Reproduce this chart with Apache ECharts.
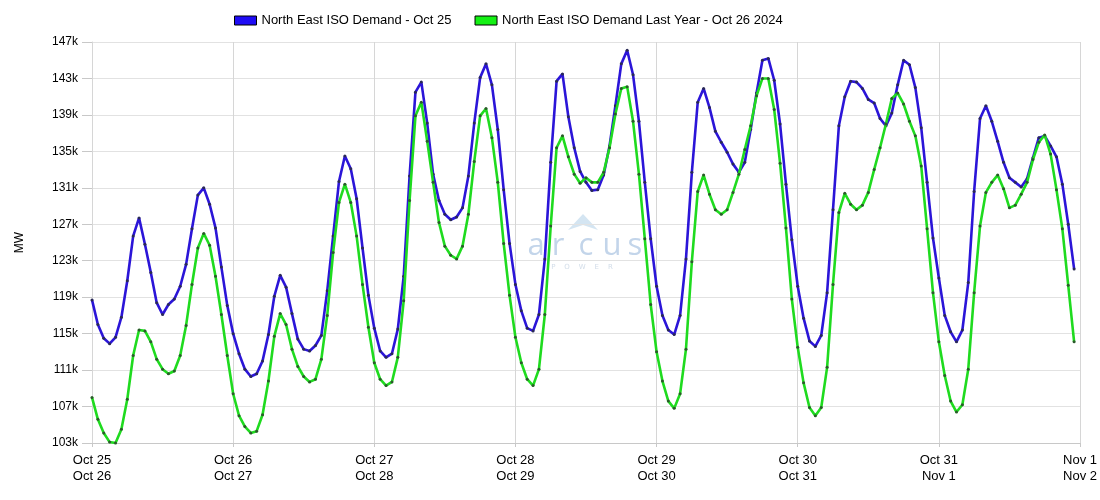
<!DOCTYPE html>
<html>
<head>
<meta charset="utf-8">
<script src="https://cdn.jsdelivr.net/npm/echarts@6/dist/echarts.min.js"></script>
<style>
html,body{margin:0;padding:0;background:#fff;}
#chart{width:1100px;height:500px;}
</style>
</head>
<body>
<div id="chart"></div>
<script>
// Hourly values (thousands of MW), hour 0 = Oct 25 00:00
const demand = [
118.7,116.0,114.5,113.9,114.6,116.8,120.8,125.7,127.7,124.8,121.7,118.4,117.1,118.2,118.8,120.2,122.6,126.5,130.2,131.0,129.2,126.6,122.3,118.1,
115.0,112.8,111.1,110.3,110.6,112.0,114.9,119.1,121.4,120.1,117.2,114.4,113.3,113.1,113.7,114.8,119.7,125.7,131.7,134.5,133.1,129.8,124.4,119.2,
115.6,113.1,112.4,112.8,115.5,121.3,132.3,141.5,142.6,138.1,132.5,129.6,128.1,127.5,127.8,128.8,132.3,138.1,143.1,144.6,142.3,137.4,130.8,124.9,
120.4,117.5,115.6,115.3,117.1,123.2,133.8,142.7,143.5,138.8,135.4,132.8,131.6,130.7,130.8,132.4,135.6,140.0,144.6,146.1,143.4,138.3,131.6,125.4,
120.2,117.0,115.4,114.9,117.0,123.2,132.7,140.4,141.9,139.8,137.2,136.0,134.9,133.6,132.7,133.8,137.4,141.4,145.0,145.2,142.8,138.0,131.4,125.3,
120.2,116.7,114.2,113.6,114.8,119.5,128.6,137.8,141.0,142.7,142.6,141.9,140.7,140.3,138.6,137.8,139.2,142.3,145.0,144.5,142.0,137.6,131.6,125.5,
121.1,117.0,115.2,114.1,115.4,120.6,130.6,138.6,140.0,138.3,136.1,133.8,132.1,131.6,131.1,132.0,134.3,136.5,136.7,135.6,134.4,131.4,127.0,122.1
];
const demandLastYear = [
108.0,105.6,104.1,103.1,103.0,104.5,107.8,112.6,115.4,115.3,114.1,112.2,111.1,110.6,110.9,112.6,115.9,120.4,124.4,126.0,124.7,121.3,117.1,112.6,
108.4,106.0,104.8,104.1,104.3,106.1,109.8,114.7,117.2,116.0,113.3,111.4,110.3,109.7,110.0,112.2,117.0,123.9,129.4,131.4,129.4,125.7,120.4,115.7,
111.8,110.0,109.3,109.7,112.4,118.6,129.6,138.9,140.4,136.1,131.6,127.2,124.6,123.6,123.2,124.6,128.1,133.9,138.9,139.7,136.5,131.6,124.9,119.2,
114.6,111.8,110.0,109.3,111.1,117.1,126.8,135.4,136.7,134.4,132.5,131.5,132.1,131.6,131.6,132.7,135.4,139.1,141.9,142.1,138.3,132.5,125.4,118.2,
113.0,109.8,107.6,106.8,108.4,113.3,122.9,130.6,132.4,130.3,128.6,128.1,128.6,130.5,132.5,135.2,137.8,141.1,143.0,143.0,139.6,133.7,126.6,118.8,
113.5,109.6,106.9,106.0,106.9,111.3,120.4,128.3,130.4,129.2,128.6,129.1,130.5,133.0,135.4,138.0,140.8,141.4,140.2,138.3,136.7,133.4,126.5,119.5,
114.1,110.4,107.6,106.4,107.2,111.1,119.5,126.8,130.5,131.6,132.4,130.9,128.8,129.1,130.3,131.6,134.1,136.0,136.8,134.7,130.8,126.5,120.3,114.1
];
const seriesNames = ['North East ISO Demand - Oct 25', 'North East ISO Demand Last Year - Oct 26 2024'];
const xTicksTop = ['Oct 25','Oct 26','Oct 27','Oct 28','Oct 29','Oct 30','Oct 31','Nov 1'];
const xTicksBottom = ['Oct 26','Oct 27','Oct 28','Oct 29','Oct 30','Oct 31','Nov 1','Nov 2'];
const yTicks = ['103k','107k','111k','115k','119k','123k','127k','131k','135k','139k','143k','147k'];
const yMin = 103, yMax = 147;
const watermarkLetters = ['a','r','c','u','s'];

const FONT = 'Liberation Sans, Arial, sans-serif';
const chart = echarts.init(document.getElementById('chart'), null, {renderer: 'canvas'});
const toPts = arr => arr.map((v, i) => [i, v]);

const letterX = [536, 558, 586, 612, 635];
const graphics = [
  {type: 'polygon', z: 0, silent: true,
   shape: {points: [[568,230],[583,214],[598,230],[583,225]]},
   style: {fill: '#d4e5f2'}},
  {type: 'text', z: 0, silent: true, x: 582, y: 267,
   style: {text: 'P    O    W    E    R', font: '7px "DejaVu Sans", sans-serif', fill: '#d2dde9', align: 'center', verticalAlign: 'middle'}}
];
watermarkLetters.forEach((ch, i) => graphics.push({
  type: 'text', z: 0, silent: true, x: letterX[i], y: 246,
  style: {text: ch, font: '400 31px "Open Sans", Lato, sans-serif', fill: '#c3d5ea', align: 'center', verticalAlign: 'middle'}
}));

const option = {
  animation: false,
  backgroundColor: '#fff',
  textStyle: {fontFamily: FONT},
  legend: {
    left: 229, top: 9,
    itemWidth: 22, itemHeight: 9, itemGap: 23,
    icon: 'rect',
    textStyle: {fontFamily: FONT, fontSize: 13, color: '#000'},
    data: [
      {name: seriesNames[0], itemStyle: {color: '#1f0cf5', borderColor: '#000', borderWidth: 1}},
      {name: seriesNames[1], itemStyle: {color: '#14f014', borderColor: '#000', borderWidth: 1}}
    ]
  },
  grid: {left: 92, right: 20, top: 42, bottom: 57, containLabel: false},
  xAxis: {
    type: 'value', min: 0, max: 168, interval: 24,
    axisLine: {show: true, lineStyle: {color: '#c8c8c8'}},
    axisTick: {show: true, length: 4, lineStyle: {color: '#c8c8c8'}},
    splitLine: {show: true, lineStyle: {color: '#d6d6d6', width: 1}},
    axisLabel: {
      fontFamily: FONT, fontSize: 13, color: '#000', margin: 9, lineHeight: 16,
      showMinLabel: true, showMaxLabel: true,
      formatter: v => { const k = Math.round(v / 24); return xTicksTop[k] + '\n' + xTicksBottom[k]; }
    }
  },
  yAxis: [
    {type: 'value', min: yMin, max: yMax, show: false, splitLine: {show: false}},
    {
      type: 'value', min: 0, max: yTicks.length - 1, interval: 1, position: 'left',
      name: 'MW', nameLocation: 'middle', nameGap: 66, nameRotate: 90,
      nameTextStyle: {fontFamily: FONT, fontSize: 12, color: '#000'},
      axisLine: {show: true, lineStyle: {color: '#d6d6d6'}},
      axisTick: {show: true, length: 10, lineStyle: {color: '#c8c8c8'}},
      splitLine: {show: true, lineStyle: {color: '#e2e2e2', width: 1}},
      axisLabel: {fontFamily: FONT, fontSize: 12, color: '#000', margin: 14, formatter: v => yTicks[v]}
    }
  ],
  graphic: graphics,
  series: [
    {
      name: seriesNames[0], type: 'line', yAxisIndex: 0, z: 3,
      data: toPts(demand),
      symbol: 'circle', symbolSize: 3, showSymbol: true,
      lineStyle: {color: '#2b15d8', width: 2.6},
      itemStyle: {color: '#2a2a55'}
    },
    {
      name: seriesNames[1], type: 'line', yAxisIndex: 0, z: 4,
      data: toPts(demandLastYear),
      symbol: 'circle', symbolSize: 3, showSymbol: true,
      lineStyle: {color: '#1fdb1f', width: 2.6},
      itemStyle: {color: '#2b5a2b'}
    }
  ]
};
chart.setOption(option);
</script>
</body>
</html>
